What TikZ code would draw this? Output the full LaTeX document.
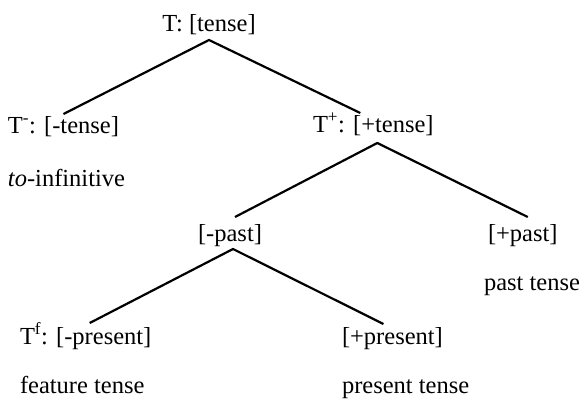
\documentclass[tikz,border=0pt]{standalone}
\usepackage{fontspec}
\setmainfont{Liberation Serif}
\begin{document}
\begin{tikzpicture}[x=1pt,y=-1pt,
  lbl/.style={anchor=base west, inner sep=0pt, outer sep=0pt, text height=17pt, text depth=5pt, font=\fontsize{24.5}{28}\selectfont},
  ln/.style={line width=2.2pt}]
\useasboundingbox (0,0) rectangle (586,402);
% nodes
\node[lbl, anchor=base] (root) at (209,31) {T: [tense]};
\node[lbl] (tm) at (8,133) {T\textsuperscript{-}: [-tense]};
\node[lbl] (tp) at (313,132) {T\textsuperscript{+}: [+tense]};
\node[lbl] (inf) at (8,186) {\textit{to}-infinitive};
\node[lbl, anchor=base] (mp) at (230,241) {[-past]};
\node[lbl] (pp) at (488,241) {[+past]};
\node[lbl] (pt) at (484,290) {past tense};
\node[lbl] (tf) at (20,344) {T\textsuperscript{f}: [-present]};
\node[lbl] (pr) at (342,344) {[+present]};
\node[lbl] (ft) at (20,393) {feature tense};
\node[lbl] (prt) at (342,393) {present tense};
% connectors
\draw[ln] ([yshift=2pt]tm.north) -- ([yshift=-4pt]root.south) -- ([xshift=-13pt,yshift=2pt]tp.north);
\draw[ln] ([xshift=5pt,yshift=7pt]mp.north) -- ([xshift=4pt,yshift=-6pt]tp.south) -- ([xshift=5pt,yshift=7pt]pp.north);
\draw[ln] ([xshift=4pt,yshift=4pt]tf.north) -- ([xshift=3pt,yshift=-3pt]mp.south) -- ([xshift=-9pt,yshift=3pt]pr.north);
\end{tikzpicture}
\end{document}
